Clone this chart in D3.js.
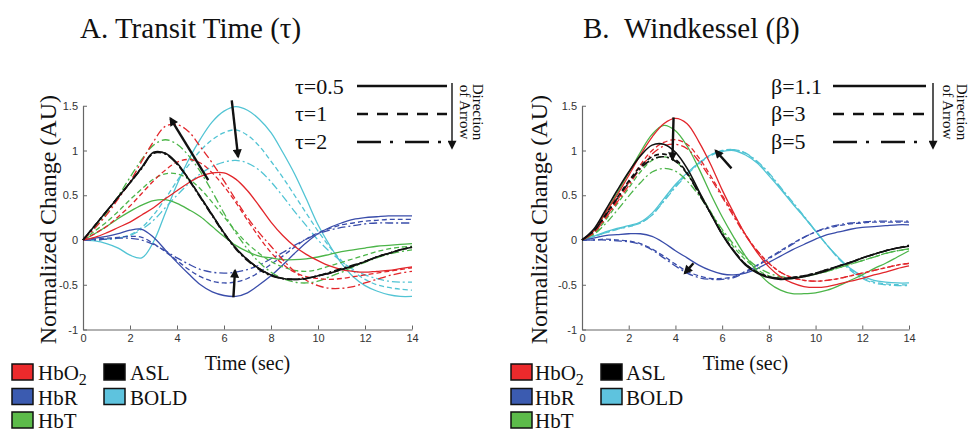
<!DOCTYPE html>
<html>
<head>
<meta charset="utf-8">
<script src="https://cdn.jsdelivr.net/npm/d3@7"></script>
<style>
  body { margin: 0; background: #fff; }
  svg { display: block; }
</style>
</head>
<body>
<svg id="chart" width="970" height="433"></svg>
<script>
// ---- shared sampling grid and axis ticks ----
const timeGrid = d3.range(0, 14.01, 0.5);           // seconds
const yTickValues = [-1, -0.5, 0, 0.5, 1, 1.5];
const yTickLabels = ["-1", "-0.5", "0", "0.5", "1", "1.5"];
const xTickValues = [0, 2, 4, 6, 8, 10, 12, 14];
const tauLabels = ["τ=0.5", "τ=1", "τ=2"];
const betaLabels = ["β=1.1", "β=3", "β=5"];
const speciesNames = ["HbO2", "HbR", "HbT", "ASL", "BOLD"];

// ---- Panel A: transit time (tau = 0.5, 1, 2) ----
const hbo2A_tau05 = [0,.03,.08,.14,.2,.28,.36,.46,.55,.64,.71,.75,.75,.68,.55,.38,.2,.05,-.07,-.16,-.23,-.29,-.33,-.35,-.36,-.35,-.34,-.32,-.30];
const hbo2A_tau1  = [0,.07,.15,.26,.38,.52,.66,.78,.87,.9,.86,.75,.6,.42,.22,.03,-.14,-.27,-.36,-.41,-.43,-.44,-.43,-.41,-.39,-.37,-.35,-.33,-.31];
const hbo2A_tau2  = [0,.13,.28,.46,.65,.88,1.1,1.27,1.29,1.21,1.04,.86,.66,.45,.25,.08,-.07,-.22,-.35,-.45,-.51,-.54,-.54,-.52,-.48,-.44,-.40,-.37,-.35];
const hbrA_tau05  = [0,.02,.04,.07,.11,.12,.03,-.11,-.25,-.38,-.5,-.58,-.62,-.63,-.59,-.5,-.4,-.28,-.15,-.03,.07,.14,.19,.23,.25,.26,.27,.27,.27];
const hbrA_tau1   = [0,.01,.02,.03,.04,.03,-.04,-.13,-.23,-.33,-.41,-.46,-.48,-.47,-.43,-.36,-.27,-.18,-.08,.01,.08,.13,.17,.19,.21,.22,.23,.23,.23];
const hbrA_tau2   = [0,0,.01,.02,.02,0,-.05,-.12,-.2,-.27,-.33,-.36,-.37,-.36,-.33,-.28,-.21,-.14,-.06,.01,.07,.11,.14,.16,.18,.19,.19,.19,.19];
const hbtA_tau05  = [0,.07,.15,.24,.32,.39,.44,.45,.41,.34,.26,.15,.04,-.06,-.13,-.18,-.2,-.22,-.22,-.21,-.19,-.16,-.13,-.11,-.09,-.07,-.06,-.05,-.04];
const hbtA_tau1   = [0,.1,.2,.32,.45,.57,.68,.74,.74,.68,.57,.42,.26,.1,-.04,-.15,-.24,-.3,-.34,-.35,-.33,-.29,-.25,-.21,-.17,-.13,-.1,-.08,-.07];
const hbtA_tau2   = [0,.14,.3,.49,.7,.9,1.06,1.12,1.07,.94,.76,.54,.3,.08,-.1,-.25,-.36,-.43,-.47,-.48,-.46,-.41,-.36,-.3,-.25,-.2,-.16,-.13,-.11];
const aslA_tau05  = [0,.16,.32,.48,.64,.81,.98,.97,.86,.68,.48,.28,.08,-.09,-.22,-.32,-.39,-.43,-.44,-.43,-.40,-.37,-.33,-.29,-.24,-.19,-.15,-.11,-.08];
const aslA_tau1   = [0,.16,.32,.48,.64,.81,.97,.97,.85,.68,.48,.28,.08,-.09,-.22,-.32,-.39,-.43,-.44,-.43,-.40,-.37,-.33,-.29,-.24,-.19,-.15,-.11,-.08];
const aslA_tau2   = [0,.16,.32,.48,.64,.80,.97,.96,.85,.67,.47,.27,.07,-.10,-.23,-.33,-.40,-.43,-.44,-.43,-.40,-.36,-.32,-.28,-.24,-.19,-.15,-.11,-.08];
const boldA_tau05 = [0,-.01,-.04,-.09,-.17,-.2,-.02,.3,.62,.9,1.13,1.32,1.44,1.49,1.45,1.35,1.2,.98,.74,.46,.17,-.06,-.26,-.41,-.51,-.57,-.61,-.63,-.63];
const boldA_tau1  = [0,0,.01,.02,.06,.14,.28,.46,.66,.84,1.0,1.12,1.2,1.23,1.17,1.05,.88,.7,.5,.3,.1,-.08,-.23,-.35,-.44,-.5,-.53,-.55,-.56];
const boldA_tau2  = [0,0,.01,.02,.05,.12,.22,.36,.5,.63,.74,.82,.87,.89,.86,.78,.65,.49,.32,.16,0,-.13,-.24,-.33,-.39,-.43,-.46,-.47,-.47];

// ---- Panel B: windkessel (beta = 1.1, 3, 5) ----
const hbo2B_b11 = [0,.1,.3,.5,.72,.95,1.15,1.3,1.36,1.3,1.1,.85,.56,.3,.06,-.14,-.3,-.41,-.48,-.52,-.53,-.52,-.49,-.46,-.43,-.39,-.36,-.32,-.29];
const hbo2B_b3  = [0,.08,.25,.44,.64,.84,1.0,1.09,1.12,1.07,.92,.72,.5,.28,.06,-.12,-.26,-.36,-.42,-.45,-.46,-.45,-.43,-.4,-.37,-.34,-.31,-.28,-.26];
const hbo2B_b5  = [0,.08,.24,.42,.61,.8,.96,1.05,1.07,1.02,.88,.69,.48,.26,.05,-.12,-.26,-.36,-.42,-.45,-.46,-.45,-.43,-.4,-.37,-.34,-.31,-.28,-.26];
const hbrB_b11  = [0,.02,.05,.06,.07,.07,.04,-.03,-.12,-.2,-.28,-.34,-.38,-.39,-.37,-.32,-.25,-.18,-.11,-.05,.01,.06,.09,.12,.14,.15,.16,.17,.17];
const hbrB_b3   = [0,0,.01,0,-.01,-.04,-.1,-.18,-.27,-.35,-.4,-.43,-.43,-.41,-.35,-.28,-.2,-.12,-.04,.03,.09,.13,.16,.18,.19,.2,.2,.2,.2];
const hbrB_b5   = [0,0,0,-.01,-.02,-.05,-.11,-.2,-.29,-.37,-.42,-.44,-.44,-.42,-.36,-.29,-.21,-.13,-.05,.03,.09,.14,.17,.19,.2,.21,.21,.21,.21];
const hbtB_b11  = [0,.1,.3,.52,.75,.98,1.18,1.28,1.22,1.05,.8,.52,.26,.03,-.18,-.35,-.48,-.56,-.6,-.6,-.59,-.56,-.51,-.45,-.39,-.32,-.26,-.19,-.12];
const hbtB_b3   = [0,.07,.22,.4,.58,.76,.89,.93,.88,.74,.54,.32,.1,-.08,-.22,-.33,-.4,-.43,-.43,-.41,-.38,-.35,-.31,-.27,-.23,-.19,-.15,-.12,-.1];
const hbtB_b5   = [0,.06,.18,.33,.49,.64,.76,.8,.77,.66,.5,.31,.12,-.05,-.19,-.3,-.37,-.41,-.42,-.41,-.38,-.35,-.31,-.27,-.23,-.19,-.15,-.12,-.1];
const aslB_b11  = [0,.12,.33,.55,.76,.94,1.06,1.07,.98,.8,.55,.3,.06,-.13,-.28,-.37,-.42,-.44,-.43,-.41,-.38,-.34,-.29,-.25,-.2,-.16,-.12,-.09,-.07];
const aslB_b3   = [0,.1,.28,.47,.66,.82,.93,.96,.9,.75,.53,.3,.07,-.12,-.27,-.36,-.41,-.43,-.42,-.4,-.37,-.33,-.29,-.25,-.2,-.16,-.12,-.09,-.07];
const aslB_b5   = [0,.1,.27,.46,.64,.8,.9,.93,.88,.74,.52,.3,.07,-.12,-.27,-.36,-.41,-.43,-.42,-.4,-.37,-.33,-.29,-.25,-.2,-.16,-.12,-.09,-.06];
const boldB_b11 = [0,.04,.09,.13,.16,.2,.3,.46,.62,.75,.86,.95,.99,1.0,.95,.86,.72,.57,.41,.26,.1,-.06,-.2,-.32,-.4,-.45,-.47,-.48,-.48];
const boldB_b3  = [0,.04,.08,.12,.15,.19,.28,.44,.6,.74,.86,.95,1.0,1.01,.97,.87,.74,.58,.42,.26,.1,-.06,-.21,-.33,-.42,-.47,-.49,-.5,-.5];
const boldB_b5  = [0,.04,.08,.12,.15,.19,.28,.43,.59,.73,.85,.94,.99,1.01,.97,.88,.75,.59,.43,.27,.1,-.06,-.21,-.34,-.43,-.48,-.5,-.51,-.51];

// ---- direction arrows, [t, value] from -> to ----
const arrowsA = [
  { from: [5.33, 0.67], to: [3.72, 1.36] },
  { from: [6.33, 1.56], to: [6.60, 0.93] },
  { from: [6.40, -0.64], to: [6.47, -0.34] }
];
const arrowsB = [
  { from: [3.92, 1.37], to: [3.87, 0.90] },
  { from: [6.40, 0.80], to: [5.72, 1.00] },
  { from: [4.77, -0.26], to: [4.40, -0.37] }
];

// ---- styling ----
const speciesColor = { HbO2: "#e2262b", HbR: "#3a4daa", HbT: "#4cb549", ASL: "#111111", BOLD: "#52c4d4" };
const legendFill   = { HbO2: "#ec2a2c", HbR: "#3b5bb0", HbT: "#5cbb4a", ASL: "#000000", BOLD: "#5ec3de" };
const dashCurve = [null, "5,3", "8,3,2,3"];
const dashKey   = [null, "11,9", "24,9,3,12"];
const serif = "'Liberation Serif', 'Times New Roman', serif";
const sans  = "'Liberation Sans', Arial, sans-serif";

const panels = [
  {
    title: "A. Transit Time (τ)", titleX: 80,
    xRange: [83, 412], ylabelX: 56,
    params: tauLabels,
    series: {
      BOLD: [boldA_tau05, boldA_tau1, boldA_tau2],
      HbR:  [hbrA_tau05, hbrA_tau1, hbrA_tau2],
      HbT:  [hbtA_tau05, hbtA_tau1, hbtA_tau2],
      HbO2: [hbo2A_tau05, hbo2A_tau1, hbo2A_tau2],
      ASL:  [aslA_tau05, aslA_tau1, aslA_tau2]
    },
    arrows: arrowsA,
    keyTextX: 295, keyLineX: [357, 447], keyArrowX: 452, dirX: [473, 460],
    legendCols: [12, 104], legendTextCols: [38, 130]
  },
  {
    title: "B.\u00a0\u00a0Windkessel (β)", titleX: 583,
    xRange: [582, 909], ylabelX: 547,
    params: betaLabels,
    series: {
      BOLD: [boldB_b11, boldB_b3, boldB_b5],
      HbR:  [hbrB_b11, hbrB_b3, hbrB_b5],
      HbT:  [hbtB_b11, hbtB_b3, hbtB_b5],
      HbO2: [hbo2B_b11, hbo2B_b3, hbo2B_b5],
      ASL:  [aslB_b11, aslB_b3, aslB_b5]
    },
    arrows: arrowsB,
    keyTextX: 771, keyLineX: [833, 926], keyArrowX: 933, dirX: [957, 943],
    legendCols: [511, 601], legendTextCols: [535, 626]
  }
];

const svg = d3.select("#chart");

// arrowhead marker
svg.append("defs").append("marker")
  .attr("id", "head")
  .attr("viewBox", "0 0 10 10")
  .attr("refX", 8).attr("refY", 5)
  .attr("markerWidth", 10).attr("markerHeight", 9)
  .attr("markerUnits", "userSpaceOnUse")
  .attr("orient", "auto")
  .append("path").attr("d", "M0,0 L10,5 L0,10 Z").attr("fill", "#111");

const y = d3.scaleLinear().domain([-1, 1.5]).range([329.5, 105.75]);

panels.forEach(p => {
  const x = d3.scaleLinear().domain([0, 14]).range(p.xRange);
  const g = svg.append("g");

  // title
  g.append("text").attr("x", p.titleX).attr("y", 38)
    .attr("font-family", serif).attr("font-size", 29).attr("fill", "#111")
    .text(p.title);

  // axes
  const axY = g.append("g").attr("transform", `translate(${p.xRange[0]},0)`)
    .call(d3.axisLeft(y).tickValues(yTickValues)
      .tickFormat((d, i) => yTickLabels[i])
      .tickSizeInner(-4).tickSizeOuter(0).tickPadding(5));
  const axX = g.append("g").attr("transform", `translate(0,${y(-1)})`)
    .call(d3.axisBottom(x).tickValues(xTickValues)
      .tickSizeInner(-4).tickSizeOuter(0).tickPadding(5));
  [axY, axX].forEach(ax => {
    ax.select(".domain").attr("stroke", "#666").attr("stroke-width", 1.2);
    ax.selectAll(".tick line").attr("stroke", "#666");
    ax.selectAll(".tick text").attr("font-family", sans).attr("font-size", 11).attr("fill", "#333");
  });

  // axis labels
  g.append("text")
    .attr("transform", `translate(${p.ylabelX},${(y(-1) + y(1.5)) / 2 + 2}) rotate(-90)`)
    .attr("text-anchor", "middle").attr("font-family", serif).attr("font-size", 24).attr("fill", "#111")
    .text("Normalized Change (AU)");
  g.append("text")
    .attr("x", (p.xRange[0] + p.xRange[1]) / 2).attr("y", 370)
    .attr("text-anchor", "middle").attr("font-family", serif).attr("font-size", 20).attr("fill", "#111")
    .text("Time (sec)");

  // curves
  const line = d3.line()
    .x((d, i) => x(timeGrid[i]))
    .y(d => y(d))
    .curve(d3.curveCatmullRom.alpha(0.5));
  const curves = g.append("g").attr("fill", "none");
  Object.entries(p.series).forEach(([name, runs]) => {
    runs.forEach((vals, k) => {
      curves.append("path")
        .attr("d", line(vals))
        .attr("stroke", speciesColor[name])
        .attr("stroke-width", name === "ASL" ? 1.6 : 1.3)
        .attr("stroke-dasharray", dashCurve[k]);
    });
  });

  // direction arrows
  g.append("g").selectAll("line").data(p.arrows).join("line")
    .attr("x1", d => x(d.from[0])).attr("y1", d => y(d.from[1]))
    .attr("x2", d => x(d.to[0])).attr("y2", d => y(d.to[1]))
    .attr("stroke", "#111").attr("stroke-width", 2.4)
    .attr("marker-end", "url(#head)");

  // parameter key (line style per parameter value)
  const keyY = [86, 114, 142];
  const textY = [94, 121, 149];
  const key = g.append("g");
  p.params.forEach((lab, k) => {
    key.append("text").attr("x", p.keyTextX).attr("y", textY[k])
      .attr("font-family", serif).attr("font-size", 22).attr("fill", "#111").text(lab);
    key.append("line")
      .attr("x1", p.keyLineX[0]).attr("x2", p.keyLineX[1])
      .attr("y1", keyY[k]).attr("y2", keyY[k])
      .attr("stroke", "#111").attr("stroke-width", 2.6)
      .attr("stroke-dasharray", dashKey[k]);
  });
  key.append("line")
    .attr("x1", p.keyArrowX).attr("x2", p.keyArrowX)
    .attr("y1", 83).attr("y2", 148)
    .attr("stroke", "#111").attr("stroke-width", 1.4)
    .attr("marker-end", "url(#head)");
  ["Direction", "of Arrow"].forEach((t, k) => {
    key.append("text")
      .attr("transform", `translate(${p.dirX[k]},${112}) rotate(90)`)
      .attr("text-anchor", "middle").attr("font-family", serif).attr("font-size", 15).attr("fill", "#111")
      .text(t);
  });

  // species legend
  const rowsTop = [364, 388.5, 412];
  const slots = [
    { name: "HbO2", col: 0, row: 0 }, { name: "HbR", col: 0, row: 1 }, { name: "HbT", col: 0, row: 2 },
    { name: "ASL", col: 1, row: 0 }, { name: "BOLD", col: 1, row: 1 }
  ];
  slots.forEach(s => {
    g.append("rect")
      .attr("x", p.legendCols[s.col]).attr("y", rowsTop[s.row])
      .attr("width", 21).attr("height", 16)
      .attr("fill", legendFill[s.name]).attr("stroke", "#111").attr("stroke-width", 1.5);
    const t = g.append("text")
      .attr("x", p.legendTextCols[s.col]).attr("y", rowsTop[s.row] + 16)
      .attr("font-family", serif).attr("font-size", 21).attr("fill", "#111");
    if (s.name === "HbO2") {
      t.append("tspan").text("HbO");
      t.append("tspan").attr("dy", 5).attr("font-size", 16).text("2");
    } else {
      t.text(s.name);
    }
  });
});
</script>
</body>
</html>
